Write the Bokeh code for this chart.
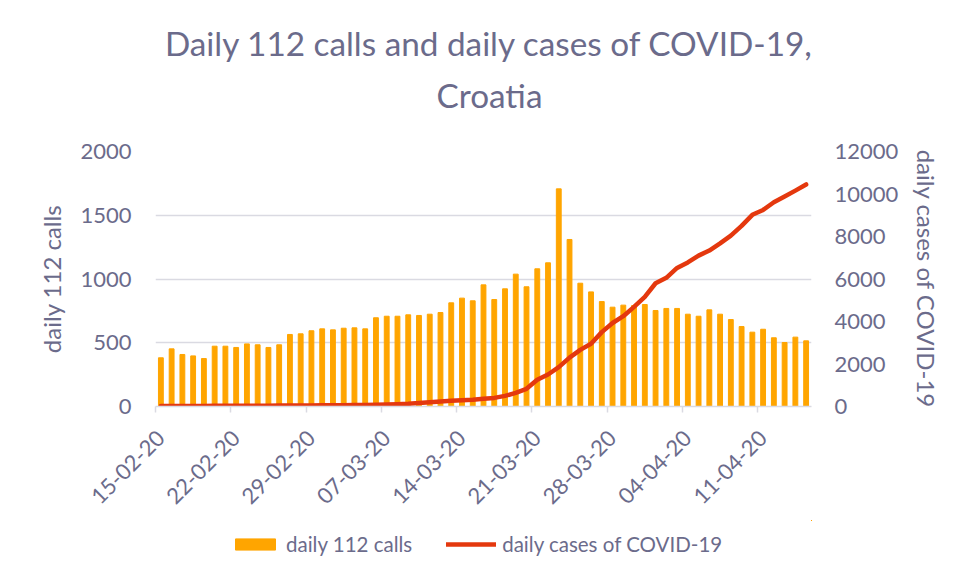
import math
from bokeh.plotting import figure
from bokeh.layouts import column
from bokeh.models import (ColumnDataSource, Range1d, LinearAxis, FixedTicker,
                          Legend, LegendItem)
from bokeh.core.properties import value
from bokeh.embed import file_html
from bokeh.resources import INLINE

# ---- data ----
calls = [382, 452, 408, 397, 376, 473, 473, 463, 491, 484,
         463, 484, 565, 570, 594, 609, 601, 614, 617, 609,
         696, 708, 708, 719, 714, 724, 737, 813, 850, 829,
         954, 839, 923, 1038, 939, 1080, 1127, 1707, 1310, 967,
         899, 823, 779, 795, 792, 800, 753, 769, 769, 724,
         708, 758, 724, 682, 627, 583, 606, 539, 502, 544, 515]
cases = [20, 22, 24, 26, 28, 30, 32, 34, 36, 38,
         40, 42, 45, 48, 52, 56, 60, 64, 68, 72,
         80, 95, 110, 125, 160, 200, 240, 265, 290, 315,
         360, 405, 500, 640, 831, 1255, 1506, 1851, 2300, 2666,
         2950, 3500, 3930, 4250, 4690, 5160, 5800, 6056, 6520, 6780,
         7100, 7340, 7680, 8040, 8500, 9020, 9250, 9610, 9880, 10160, 10450]
tick_labels = ["15-02-20", "22-02-20", "29-02-20", "07-03-20", "14-03-20",
               "21-03-20", "28-03-20", "04-04-20", "11-04-20"]
calls_ticks = [0, 500, 1000, 1500, 2000]
cases_ticks = [0, 2000, 4000, 6000, 8000, 10000, 12000]
title_lines = ["Daily 112 calls and daily cases of COVID-19,", "Croatia"]
series_names = ["daily 112 calls", "daily cases of COVID-19"]

TXT = "#6b6b8b"
GRID = "#dadae2"
FONT = "Lato"
BAR_C = "#FFA500"
LINE_C = "#E4380E"
W = 950
FRAME_L, FRAME_R = 155, 811   # page pixels of the plotting frame

# ---------------- title strip (frame is aligned with the chart) ----------------
TH = 125
tfig = figure(width=W, height=TH, output_backend="svg", toolbar_location=None,
              x_range=Range1d(FRAME_L, FRAME_R), y_range=Range1d(TH, 0),
              x_axis_location=None, y_axis_location=None,
              min_border=0, outline_line_color=None)
tfig.xgrid.visible = False
tfig.ygrid.visible = False
tfig.text(x=[489, 489], y=[42, 94], text=title_lines,
          text_align="center", text_baseline="middle",
          text_font=value(FONT), text_font_size=value("33.3px"),
          text_color=TXT)

# ---------------- main chart ----------------
n = len(calls)
xs = [i + 0.5 for i in range(n)]
src = ColumnDataSource(dict(x=xs, calls=calls, cases=cases))

p = figure(width=W, height=395, output_backend="svg", toolbar_location=None,
           x_range=Range1d(0, n), y_range=Range1d(0, 2000),
           min_border_left=FRAME_L, min_border_right=W - FRAME_R,
           min_border_top=26, min_border_bottom=114)
p.title = None
p.outline_line_color = None
p.extra_y_ranges = {"cases": Range1d(0, 12000)}

bars = p.vbar(x="x", top="calls", width=0.45, source=src, color=BAR_C)
line = p.line(x="x", y="cases", source=src, y_range_name="cases",
              line_color=LINE_C, line_width=4.5, line_cap="round",
              line_join="round")

# x axis: labels centred on the dated category, tick marks at boundaries
xa = p.xaxis[0]
bounds = [7 * k for k in range(len(tick_labels))]
label_pos = [b + 0.5 for b in bounds]
xa.ticker = FixedTicker(ticks=label_pos, minor_ticks=bounds)
xa.major_label_overrides = {lp: lab for lp, lab in zip(label_pos, tick_labels)}
xa.major_label_orientation = math.pi / 4
xa.major_label_text_font = FONT
xa.major_label_text_font_size = "22px"
xa.major_label_text_color = TXT
xa.axis_line_color = GRID
xa.axis_line_width = 1.5
xa.major_tick_line_color = None
xa.major_tick_in = 0
xa.major_tick_out = 0
xa.minor_tick_line_color = GRID
xa.minor_tick_line_width = 1.5
xa.minor_tick_in = 0
xa.minor_tick_out = 6
xa.major_label_standoff = 22

# y axes
ya = p.yaxis[0]
ya.ticker = FixedTicker(ticks=calls_ticks)
ya.axis_label = series_names[0]

ra = LinearAxis(y_range_name="cases", ticker=FixedTicker(ticks=cases_ticks),
                axis_label=series_names[1])
p.add_layout(ra, "right")

for ax in [ya, ra]:
    ax.axis_line_color = None
    ax.major_tick_line_color = None
    ax.minor_tick_line_color = None
    ax.major_tick_out = 0
    ax.major_tick_in = 0
    ax.major_label_text_font = FONT
    ax.major_label_text_font_size = "22px"
    ax.major_label_text_color = TXT
    ax.axis_label_text_font = FONT
    ax.axis_label_text_font_size = "24px"
    ax.axis_label_text_font_style = "normal"
    ax.axis_label_text_color = TXT
    ax.axis_label_standoff = 11
ya.major_label_standoff = 24
ra.major_label_standoff = 23

p.xgrid.grid_line_color = None
p.ygrid.grid_line_color = GRID
p.ygrid.grid_line_width = 1.5
p.ygrid.ticker = FixedTicker(ticks=calls_ticks)

# ---------------- legend strip ----------------
# same series, with x and y ranges placed far away so that nothing of them is
# in view; only this strip's legend is visible
LH = 50
lfig = figure(width=W, height=LH, output_backend="svg", toolbar_location=None,
              x_range=Range1d(-200, -100), y_range=Range1d(-2e6, -1e6),
              x_axis_location=None, y_axis_location=None,
              min_border=0, outline_line_color=None)
lfig.xgrid.visible = False
lfig.ygrid.visible = False
lb = lfig.vbar(x="x", top="calls", width=0.45, source=src, color=BAR_C)
ll = lfig.line(x="x", y="cases", source=src, line_color=LINE_C,
               line_width=4.5, line_cap="round")
legend = Legend(items=[LegendItem(label=series_names[0], renderers=[lb]),
                       LegendItem(label=series_names[1], renderers=[ll])],
                orientation="horizontal", location=(230 - FRAME_L, 14),
                glyph_width=50, glyph_height=14, label_standoff=6, spacing=34,
                label_text_font=FONT, label_text_font_size="20.5px",
                label_text_color=TXT, border_line_color=None,
                background_fill_alpha=0, padding=4, margin=0)
lfig.add_layout(legend, "center")

layout = column(tfig, p, lfig, spacing=0)
open("out.html", "w").write(file_html(layout, INLINE))
